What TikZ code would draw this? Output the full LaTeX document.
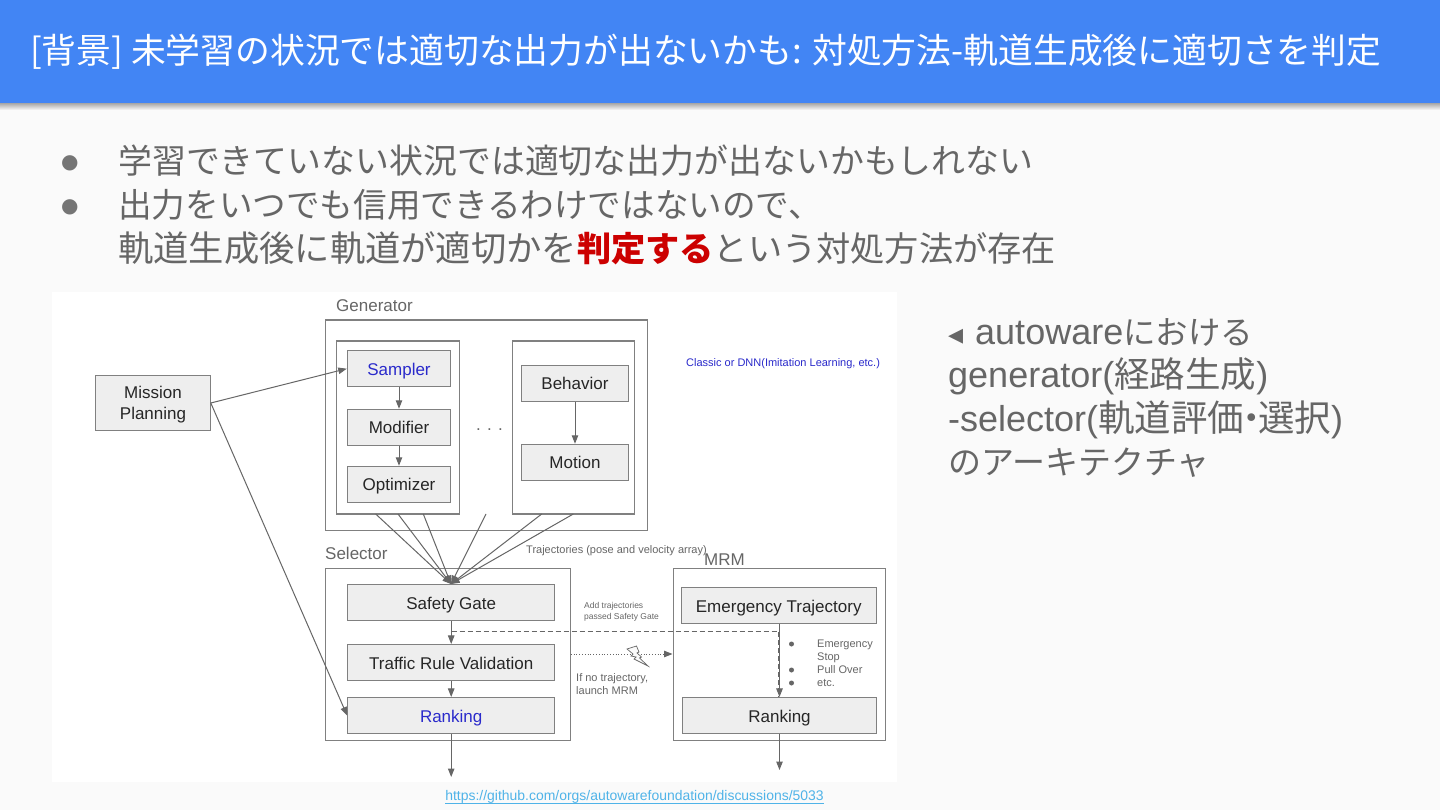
\documentclass[tikz,border=0pt]{standalone}
\usepackage{fontspec}
\usepackage{xcolor}
\setmainfont{Liberation Sans}
\newfontfamily\jpfont{Noto Sans CJK JP}
\newfontfamily\symfont{DejaVu Sans}
\definecolor{pagecolor}{HTML}{fafafa}
\definecolor{headcolor}{HTML}{4285f4}
\definecolor{bodycolor}{HTML}{666666}
\definecolor{dotcolor}{HTML}{757575}
\definecolor{alertcolor}{HTML}{cc0000}
\definecolor{linkcolor}{HTML}{4fb3e8}
\definecolor{blockfill}{HTML}{eeeeee}
\definecolor{blockborder}{HTML}{808080}
\definecolor{linecolor}{HTML}{666666}
\definecolor{bluecolor}{HTML}{2a2acb}
\usetikzlibrary{positioning,arrows.meta,calc}
\tikzset{
    block/.style={
        rectangle,
        draw=blockborder,
        fill=blockfill,
        text=black!85,
        align=center,
        line width=1.1pt,
        inner sep=0pt,
        text height=17pt,
        text depth=3.8pt,
        font=\fontsize{17}{20.5}\selectfont,
    },
    frame/.style={
        rectangle,
        draw=blockborder,
        fill=white,
        line width=1.1pt,
        inner sep=0pt,
    },
    title/.style={
        text=bodycolor,
        anchor=west,
        inner sep=0pt,
        font=\fontsize{17}{20}\selectfont,
    },
    note/.style={
        text=bodycolor,
        anchor=west,
        inner sep=0pt,
        align=left,
    },
    bodytext/.style={
        text=bodycolor,
        anchor=west,
        inner sep=0pt,
        font=\jpfont\fontsize{33.9}{40}\selectfont,
    },
    sidetext/.style={
        bodytext,
        font=\fontsize{36}{40}\selectfont,
    },
    signal/.style={
        -{Stealth[inset=0pt,length=8.5pt,width=6.5pt]},
        line width=1pt,
        linecolor,
    },
}
\newcommand{\jpsized}[2]{{\jpfont\fontsize{#1}{40}\selectfont #2}}
\begin{document}
\begin{tikzpicture}[x=1pt,y=-1pt]
    \useasboundingbox (0,0) rectangle (1440,810);
    \fill[pagecolor] (0,0) rectangle (1440,810);

    % Header
    \shade[top color=black!35, bottom color=pagecolor] (0,103) rectangle (1440,110);
    \fill[headcolor] (0,0) rectangle (1440,103);
    \node[anchor=west, inner sep=0pt, text=white, font=\jpfont\fontsize{34.8}{40}\selectfont] (head) at (30,51.5) {[背景] 未学習の状況では適切な出力が出ないかも: 対処方法-軌道生成後に適切さを判定};

    % Bullets
    \node[bodytext, text=dotcolor, font=\symfont\fontsize{20}{24}\selectfont] (dot1) at (61,163) {●};
    \node[bodytext, text=dotcolor, font=\symfont\fontsize{20}{24}\selectfont] (dot2) at (61,207) {●};
    \node[bodytext] (line1) at (118,161) {学習できていない状況では適切な出力が出ないかもしれない};
    \node[bodytext, font=\jpfont\fontsize{33.6}{40}\selectfont] (line2) at (118,205) {出力をいつでも信用できるわけではないので、};
    \node[bodytext, font=\jpfont\fontsize{34.2}{40}\selectfont] (line3) at (118,248) {\jpsized{35.3}{軌道生成後に軌道が適切かを}{\color{alertcolor}\bfseries 判定する}という対処方法が存在};

    % Image area
    \node[rectangle, fill=white, minimum width=845pt, minimum height=490pt, inner sep=0pt] (sheet) at (474.5,537) {};

    % Generator
    \node[frame, minimum width=322pt, minimum height=210.7pt] (gen) at (486.5,425.3) {};
    \node[title] (genlabel) at (336,306) {Generator};
    \node[frame, minimum width=123pt, minimum height=173pt] (genleft) at (397.8,427.5) {};
    \node[frame, minimum width=122.7pt, minimum height=173pt] (genright) at (573.4,427.5) {};
    \node[block, minimum width=103.4pt, minimum height=36pt, text=bluecolor] (sampler) at (399,368.7) {Sampler};
    \node[block, minimum width=103.4pt, minimum height=36pt] (modifier) at (399,427.3) {Modifier};
    \node[block, minimum width=103.4pt, minimum height=36pt] (optimizer) at (399,484.3) {Optimizer};
    \node[block, minimum width=107.4pt, minimum height=36pt] (behavior) at (575,383.2) {Behavior};
    \node[block, minimum width=107.4pt, minimum height=36pt] (motion) at (575,462.3) {Motion};
    \node[text=bodycolor, inner sep=0pt, font=\fontsize{17}{20}\selectfont] (dots) at (489.5,430) {. . .};
    \draw[signal] (sampler) -- (modifier);
    \draw[signal] (modifier) -- (optimizer);
    \draw[signal] (behavior) -- (motion);

    % Mission planning
    \node[block, minimum width=114.5pt, minimum height=54.3pt, text height=36.5pt] (mission) at (153,403) {Mission\\Planning};

    % Selector
    \node[frame, minimum width=244.6pt, minimum height=172.7pt] (sel) at (448,654.4) {};
    \node[title] (sellabel) at (325,553) {Selector};
    \node[block, minimum width=207pt, minimum height=36pt] (gate) at (451.2,602.5) {Safety Gate};
    \node[block, minimum width=207pt, minimum height=36pt] (traffic) at (451.2,662.5) {Traffic Rule Validation};
    \node[block, minimum width=207pt, minimum height=36pt, text=bluecolor] (rank) at (451.2,715.5) {Ranking};

    % MRM
    \node[frame, minimum width=212.3pt, minimum height=172.7pt] (mrm) at (779.2,654.4) {};
    \node[title] (mrmlabel) at (704,560) {MRM};
    \node[block, minimum width=194.7pt, minimum height=36pt] (emerg) at (778.7,605.5) {Emergency Trajectory};
    \node[block, minimum width=194.4pt, minimum height=36pt] (rank2) at (779.5,715.5) {Ranking};

    % Labels
    \node[note, text=bluecolor, font=\fontsize{11}{13}\selectfont] (classic) at (686,364) {Classic or DNN(Imitation Learning, etc.)};
    \node[note, font=\fontsize{11}{13}\selectfont] (traj) at (526,551) {Trajectories (pose and velocity array)};
    \node[note, font=\fontsize{8.5}{11}\selectfont] (addtraj) at (584,612) {Add trajectories\\passed Safety Gate};
    \node[note, font=\fontsize{11}{13}\selectfont] (nolabel) at (576,684) {If no trajectory,\\launch MRM};
    \node[note, font=\fontsize{11}{13}\selectfont] (stops) at (817,663) {Emergency\\Stop\\Pull Over\\etc.};
    \foreach \i/\y in {1/644,2/670,3/683} {
        \node[circle, fill=bodycolor, inner sep=0pt, minimum size=5pt] (stopdot\i) at (791.5,\y) {};
    }

    % Fan into the safety gate
    \coordinate (gatein) at (451,584);
    \foreach \i/\x in {1/375.7,2/398,3/423.3,4/486,5/541.7,6/573.3} {
        \coordinate (fan\i) at (\x,514);
        \draw[signal] (fan\i) -- (gatein);
    }

    % Mission planning arrows
    \draw[signal] (mission.east) -- (sampler.west);
    \draw[signal] (mission.east) -- (rank.west);

    % Selector flow
    \draw[signal] (gate) -- (traffic);
    \draw[signal] (traffic) -- (rank);
    \coordinate (selout) at (451.2,777);
    \coordinate (mrmout) at (779.5,770);
    \draw[signal] (rank) -- (selout);
    \draw[signal] (rank2) -- (mrmout);

    % MRM flow
    \draw[signal] (emerg.south -| rank2) -- (rank2);
    \coordinate (dashin) at (451.5,631);
    \coordinate (dashturn) at (778.5,631);
    \draw[linecolor, line width=1pt, dash pattern=on 5pt off 3pt] (dashin) -- (dashturn) -- (rank2.north -| dashturn);
    \draw[linecolor, line width=0.8pt, dotted, -{Stealth[inset=0pt,length=8.5pt,width=6.5pt]}] (sel.east |- 0,654) -- (mrm.west |- 0,654);

    % Lightning
    \draw[fill=pagecolor, draw=linecolor, line width=0.7pt] (627,649) -- (636.5,646) -- (639,652) -- (637,653) -- (641.5,657) -- (639.5,658) -- (648,666) -- (634,659) -- (636,657) -- (631,656) -- (633,654) -- cycle;

    % Right text
    \node[sidetext] (r1) at (948,332) {\makebox[27pt][l]{\symfont\fontsize{30}{30}\selectfont ◂}autoware\jpsized{32.5}{における}};
    \node[sidetext] (r2) at (948,376) {generator(\jpsized{35.5}{経路生成})};
    \node[sidetext] (r3) at (948,420) {-selector(\jpsized{36.5}{軌道評価\makebox[14pt][c]{・}選択})};
    \node[bodytext, font=\jpfont\fontsize{33}{40}\selectfont] (r4) at (948,463) {のアーキテクチャ};

    % Link
    \node[inner sep=0pt, text=linkcolor, font=\fontsize{13.95}{17}\selectfont] (link) at (634.5,797) {https://github.com/orgs/autowarefoundation/discussions/5033};
    \draw[linkcolor, line width=0.8pt] (link.south west) -- (link.south east);
\end{tikzpicture}
\end{document}
